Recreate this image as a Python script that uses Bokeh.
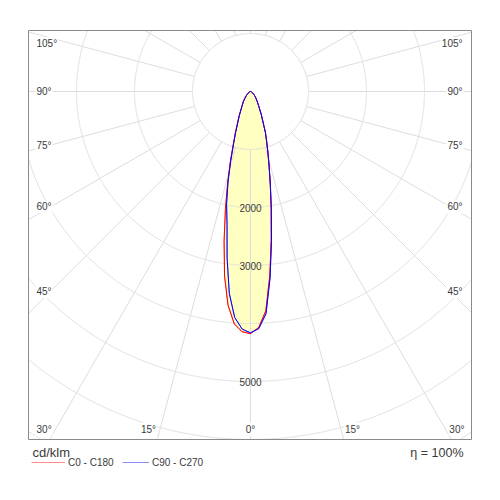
import numpy as np
from bokeh.plotting import figure
from bokeh.models import ColumnDataSource, Label, Legend, LegendItem, Range1d
from bokeh.core.properties import value
from bokeh.embed import file_html
from bokeh.resources import INLINE

# ---------------- data (cd/klm) ----------------
gamma = [0, 2, 4, 6, 8, 10, 12, 14, 16, 18, 20, 25, 30, 35, 40, 45, 50, 55, 60, 65, 70, 75, 80, 85, 90]
c0 = [4175, 4070, 3790, 3190, 2570, 2050, 1640, 1325, 1085, 895, 750, 440, 275, 192, 138, 98, 68, 46, 30, 19, 11, 6, 3, 1, 0]
c180 = [4175, 4145, 4015, 3705, 3215, 2622, 2081, 1630, 1261, 961, 767, 463, 298, 220, 150, 105, 72, 50, 33, 22, 14, 8, 5, 2, 0]
c90 = [4161, 4090, 3840, 3230, 2600, 2070, 1650, 1330, 1090, 900, 753, 443, 278, 195, 140, 100, 70, 48, 31, 20, 12, 7, 4, 1, 0]
c270 = [4161, 4100, 3905, 3499, 2898, 2330, 1985, 1600, 1235, 940, 750, 455, 292, 215, 148, 103, 71, 49, 32, 21, 13, 7, 4, 2, 0]

ring_values = [1000, 2000, 3000, 4000, 5000, 6000, 7000, 8000]
ring_labels = [2000, 3000, 5000]
angle_ticks = [0, 15, 30, 45, 60, 75, 90, 105]
spoke_angles = list(range(0, 181, 15))
series_names = ["C0 - C180", "C90 - C270"]
unit_label = "cd/klm"
efficiency_label = "η = 100%"

# ---------------- layout (pixels) ----------------
W, H = 500, 490           # whole canvas is the frame
CX, CY = 250, 91          # polar centre on the canvas
BOX_L, BOX_R, BOX_T, BOX_B = 28, 471, 30, 439   # diagram box on the canvas
px = 0.058                # pixels per cd/klm

x0, x1 = -CX / px, (W - CX) / px
y0, y1 = -(H - CY) / px, CY / px
bx0, bx1 = (BOX_L - CX) / px, (BOX_R - CX) / px
by0, by1 = -(BOX_B - CY) / px, (CY - BOX_T) / px

FONT = "Liberation Sans"
TXT = "#3a3a3a"
GRID = "#dedede"

p = figure(frame_width=W, frame_height=H,
           x_range=Range1d(x0, x1), y_range=Range1d(y0, y1),
           x_axis_location=None, y_axis_location=None,
           min_border=0, output_backend="svg", toolbar_location=None)
p.xgrid.visible = False
p.ygrid.visible = False
p.outline_line_color = None
p.background_fill_color = "white"
p.border_fill_color = "white"

g = np.radians(np.array(gamma, dtype=float))


def polygon(left_vals, right_vals):
    L = np.array(left_vals, dtype=float)
    R = np.array(right_vals, dtype=float)
    xl = -L * np.sin(g)
    yl = -L * np.cos(g)
    xr = R * np.sin(g)
    yr = -R * np.cos(g)
    xs = np.concatenate([xl[::-1], xr[1:]])
    ys = np.concatenate([yl[::-1], yr[1:]])
    return xs, ys


xs_red, ys_red = polygon(c180, c0)
xs_blue, ys_blue = polygon(c270, c90)

FILL = "#ffffc2"
p.patch(xs_red, ys_red, fill_color=FILL, line_color=None)
p.patch(xs_blue, ys_blue, fill_color=FILL, line_color=None)

# polar grid, clipped to the box
th = np.linspace(0, 2 * np.pi, 2881)
ring_xs, ring_ys = [], []
for r in ring_values:
    cx = r * np.cos(th)
    cy = r * np.sin(th)
    inside = (cx >= bx0) & (cx <= bx1) & (cy >= by0) & (cy <= by1)
    ring_xs.append(np.where(inside, cx, np.nan))
    ring_ys.append(np.where(inside, cy, np.nan))
p.multi_line(ring_xs, ring_ys, line_color=GRID, line_width=1)

r_in = ring_values[0]
sx0, sy0, sx1, sy1 = [], [], [], []
for a in spoke_angles:
    ar = np.radians(a)
    for s in ([1] if a in (0, 180) else [-1, 1]):
        dx = s * np.sin(ar) if a not in (0, 180) else 0.0
        dy = -np.cos(ar)
        ts = []
        if dx > 1e-9:
            ts.append(bx1 / dx)
        if dx < -1e-9:
            ts.append(bx0 / dx)
        if dy > 1e-9:
            ts.append(by1 / dy)
        if dy < -1e-9:
            ts.append(by0 / dy)
        t = min(ts)
        sx0.append(r_in * dx); sy0.append(r_in * dy)
        sx1.append(t * dx); sy1.append(t * dy)
p.segment(sx0, sy0, sx1, sy1, line_color=GRID, line_width=1)

# box outline
p.quad(left=[bx0], right=[bx1], bottom=[by0], top=[by1], fill_color=None,
       line_color="#8a8a8a", line_width=1)

# ring value labels
p.text(x=[0] * len(ring_labels), y=[-v for v in ring_labels], text=[str(v) for v in ring_labels],
       text_font=value(FONT), text_font_size="10px", text_color=TXT,
       text_align="center", text_baseline="middle")

# angle labels
ymin = by0 + 10.5 / px
ymax = by1 - 13 / px
lx, ly, lt, la = [], [], [], []
for a in angle_ticks:
    ar = np.radians(a)
    for s in ([0] if a == 0 else [-1, 1]):
        if s == 0:
            lx.append(0); ly.append(ymin); lt.append(f"{a}°"); la.append("center")
            continue
        yr = -(200 / px) / np.tan(ar) if a != 90 else 0.0
        if yr < ymin:
            y = ymin
            xray = s * (-y) * np.tan(ar)
            lx.append(xray + s * 3 / px)
            ly.append(y)
            la.append("right" if s < 0 else "left")
        else:
            y = min(yr, ymax)
            lx.append(bx0 + 7 / px if s < 0 else bx1 - 8 / px)
            ly.append(y)
            la.append("left" if s < 0 else "right")
        lt.append(f"{a}°")
src = ColumnDataSource(dict(x=lx, y=ly, t=lt, a=la))
p.text(x="x", y="y", text="t", text_align="a", source=src,
       text_font=value(FONT), text_font_size="10px", text_color=TXT,
       text_baseline="middle", background_fill_color="white", padding=1)

# softer key lines (hidden under the curves, used only for the legend)
red_key = p.line(xs_red, ys_red, line_color="#ff8a8a", line_width=1)
blue_key = p.line(xs_blue, ys_blue, line_color="#8a8aff", line_width=1)

# curves
red = p.line(xs_red, ys_red, line_color="#ff0000", line_width=1)
blue = p.line(xs_blue, ys_blue, line_color="#0000ff", line_width=1)

leg_common = dict(orientation="horizontal", glyph_height=12, label_height=12,
                  label_standoff=3, padding=0, margin=0, spacing=0,
                  border_line_color=None, background_fill_alpha=0,
                  label_text_font=FONT, label_text_font_size="10px", label_text_color=TXT)
leg1 = Legend(items=[LegendItem(label=series_names[0], renderers=[red_key])],
              location=(31, H - 468), glyph_width=34, **leg_common)
leg2 = Legend(items=[LegendItem(label=series_names[1], renderers=[blue_key])],
              location=(122, H - 468), glyph_width=27, **leg_common)
p.add_layout(leg1)
p.add_layout(leg2)

p.add_layout(Label(x=BOX_L + 4, y=H - 452, x_units="screen", y_units="screen", text=unit_label,
                   text_font=FONT, text_font_size="13px", text_color=TXT,
                   text_baseline="middle", text_align="left"))
p.add_layout(Label(x=BOX_R - 8, y=H - 452, x_units="screen", y_units="screen", text=efficiency_label,
                   text_font=FONT, text_font_size="12.5px", text_color=TXT,
                   text_baseline="middle", text_align="right"))

open("out.html", "w").write(file_html(p, INLINE))
